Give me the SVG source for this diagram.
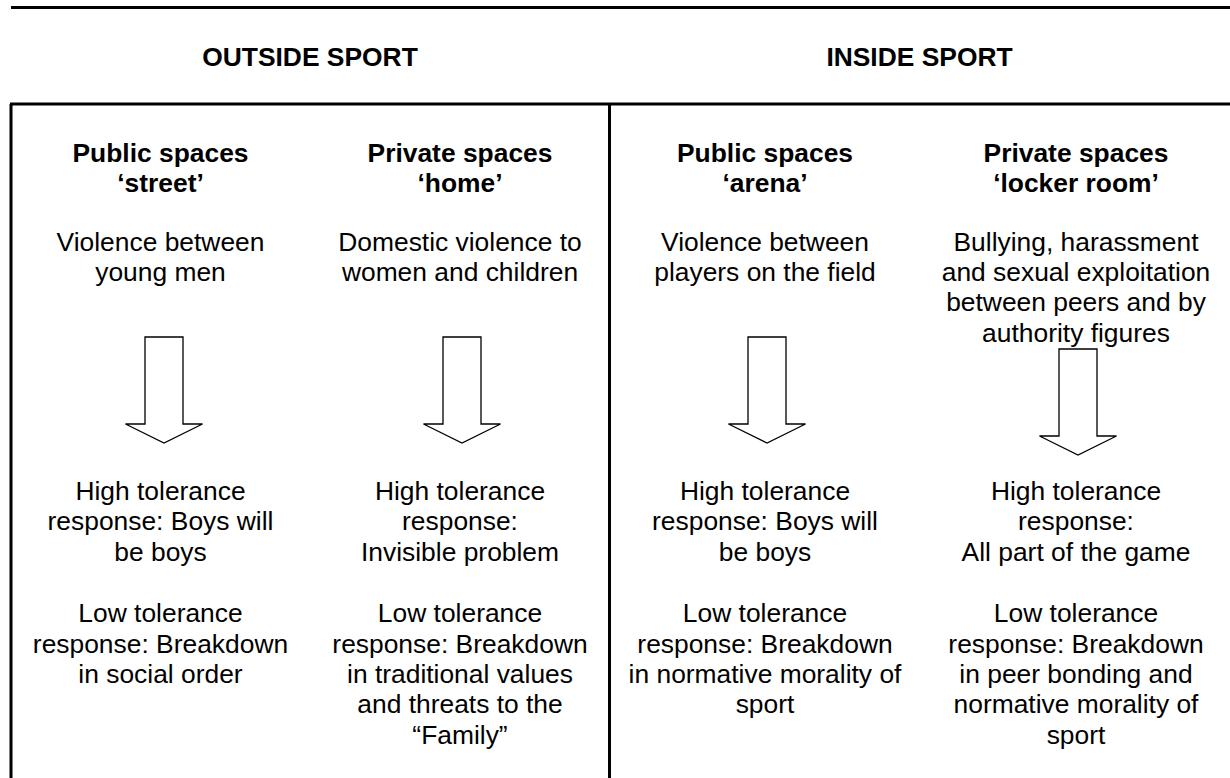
<svg xmlns="http://www.w3.org/2000/svg" width="1230" height="778" viewBox="0 0 1230 778">
<style>
text{font-family:"Liberation Sans",Arial,sans-serif;font-size:26.4px;fill:#000;text-anchor:middle}
.b{font-weight:bold}
.rule{stroke:#000;stroke-width:3;fill:none}
.arrow{fill:#fff;stroke:#000;stroke-width:1.3;stroke-linejoin:miter}
</style>
<defs>
<path id="arr" class="arrow" d="M-19,0 H19 V87 H38.5 L0,106 L-38.5,87 H-19 Z"/>
</defs>
<rect width="1230" height="778" fill="#fff"/>
<g id="frame">
<line class="rule" x1="11" y1="7.5" x2="1230" y2="7.5"/>
<line class="rule" x1="10" y1="104" x2="1230" y2="104"/>
<line class="rule" x1="11" y1="104" x2="11" y2="778"/>
<line class="rule" x1="609.5" y1="104" x2="609.5" y2="778"/>
</g>
<g id="headers">
<text class="b" x="310" y="66">OUTSIDE SPORT</text>
<text class="b" x="919.5" y="66">INSIDE SPORT</text>
</g>
<g id="col-street">
<text class="b" x="160.5" y="162">Public spaces</text>
<text class="b" x="160.5" y="192">‘street’</text>
<text x="160.5" y="250.6">Violence between</text>
<text x="160.5" y="281">young men</text>
<text x="160.5" y="500">High tolerance</text>
<text x="160.5" y="530.4">response: Boys will</text>
<text x="160.5" y="560.8">be boys</text>
<text x="160.5" y="622.2">Low tolerance</text>
<text x="160.5" y="652.6">response: Breakdown</text>
<text x="160.5" y="683">in social order</text>
</g>
<g id="col-home">
<text class="b" x="460" y="162">Private spaces</text>
<text class="b" x="460" y="192">‘home’</text>
<text x="460" y="250.6">Domestic violence to</text>
<text x="460" y="281">women and children</text>
<text x="460" y="500">High tolerance</text>
<text x="460" y="530.4">response:</text>
<text x="460" y="560.8">Invisible problem</text>
<text x="460" y="622.2">Low tolerance</text>
<text x="460" y="652.6">response: Breakdown</text>
<text x="460" y="683">in traditional values</text>
<text x="460" y="713.4">and threats to the</text>
<text x="460" y="743.8">“Family”</text>
</g>
<g id="col-arena">
<text class="b" x="765" y="162">Public spaces</text>
<text class="b" x="765" y="192">‘arena’</text>
<text x="765" y="250.6">Violence between</text>
<text x="765" y="281">players on the field</text>
<text x="765" y="500">High tolerance</text>
<text x="765" y="530.4">response: Boys will</text>
<text x="765" y="560.8">be boys</text>
<text x="765" y="622.2">Low tolerance</text>
<text x="765" y="652.6">response: Breakdown</text>
<text x="765" y="683">in normative morality of</text>
<text x="765" y="713.4">sport</text>
</g>
<g id="col-locker">
<text class="b" x="1076" y="162">Private spaces</text>
<text class="b" x="1076" y="192">‘locker room’</text>
<text x="1076" y="250.6">Bullying, harassment</text>
<text x="1076" y="281">and sexual exploitation</text>
<text x="1076" y="311.4">between peers and by</text>
<text x="1076" y="341.8">authority figures</text>
<text x="1076" y="500">High tolerance</text>
<text x="1076" y="530.4">response:</text>
<text x="1076" y="560.8">All part of the game</text>
<text x="1076" y="622.2">Low tolerance</text>
<text x="1076" y="652.6">response: Breakdown</text>
<text x="1076" y="683">in peer bonding and</text>
<text x="1076" y="713.4">normative morality of</text>
<text x="1076" y="743.8">sport</text>
</g>
<g id="connectors">
<use href="#arr" x="164" y="337"/>
<use href="#arr" x="462" y="337"/>
<use href="#arr" x="767" y="337"/>
<use href="#arr" x="1078" y="349"/>
</g>
</svg>
